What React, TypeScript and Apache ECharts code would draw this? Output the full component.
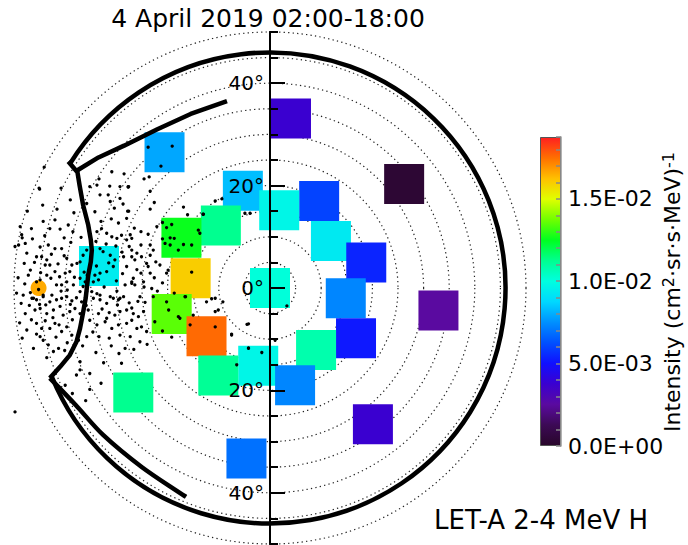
import React, { useEffect, useRef } from "react";
import * as echarts from "echarts";

// ---------- texts ----------
const titleText = "4 April 2019 02:00-18:00";
const instrumentText = "LET-A 2-4 MeV H";

// ---------- latitude axis (degrees) ----------
const latLabelValues = [-40, -20, 0, 20, 40];
const latMajorTicks = [-40, -20, 0, 20, 40];
const latMinorTicks = [-50, -45, -35, -30, -25, -15, -10, -5, 5, 10, 15, 25, 30, 35, 45, 50];

// ---------- intensity squares (x deg, y deg, intensity) ----------
const squareX = [4.1, -20.6, 26.2, -5.3, 9.6, 1.8, -9.6, 11.9, -17.3, 18.8, -33.4, -15.5, 0.0, 14.8, 32.9, -19.2, 16.8, -12.4, 9.0, -2.3, -10.1, 4.9, -26.7, 20.1, -4.6];
const squareY = [33.1, 26.5, 20.3, 19.0, 17.0, 15.2, 12.2, 9.2, 9.8, 5.0, 4.3, 1.9, 0.0, -2.0, -4.4, -5.1, -9.8, -9.4, -12.1, -15.2, -17.1, -19.0, -20.4, -26.6, -33.3];
const squareIntensity = [3.75e-3, 7.9e-3, 0.3e-3, 8.3e-3, 6.0e-3, 9.7e-3, 1.125e-2, 9.3e-3, 1.26e-2, 5.4e-3, 9.4e-3, 1.6e-2, 1.01e-2, 7.3e-3, 2.5e-3, 1.35e-2, 5.15e-3, 1.76e-2, 1.08e-2, 9.7e-3, 1.115e-2, 7.3e-3, 1.125e-2, 3.75e-3, 6.9e-3];

// ---------- particle footpoint dots (x deg, y deg) ----------
const dotsUpper = [
  [-44.1, 23.6], [-45.1, 19.5], [-23.8, 27.5], [-19.1, 27.7], [-21.3, 23.8], [-30.9, 22.7], [-28.5, 22.3],
  [-33.4, 21.3], [-23.6, 21.7], [-24.6, 21.3], [-31.3, 19.9], [-27.7, 19.7], [-33.8, 20.1],
];
const dotsWest = [
  [-45.0, 19.3], [-40.8, 19.5], [-35.2, 19.8], [-33.2, 18.2], [-31.6, 18.2], [-29.3, 19.8], [-27.6, 19.8], [-31.2, 16.9],
  [-29.3, 17.5], [-35.8, 16.5], [-27.6, 15.0], [-44.3, 13.0], [-41.0, 11.5], [-39.4, 12.3], [-38.5, 11.0], [-33.8, 11.0],
  [-32.9, 11.6], [-31.9, 10.7], [-30.9, 10.0], [-29.9, 9.7], [-29.0, 10.3], [-28.0, 9.4], [-27.0, 9.7], [-48.8, 12.0],
  [-49.8, 8.1], [-49.1, 8.4], [-47.8, 8.7], [-48.5, 10.4], [-43.3, 8.4], [-42.0, 7.7], [-40.7, 7.7], [-45.6, 6.1],
  [-44.6, 6.1], [-43.6, 5.5], [-43.0, 4.5], [-42.0, 3.2], [-43.9, 4.5], [-43.6, 2.5], [-39.7, 5.8], [-38.7, 4.5],
  [-39.1, 3.2], [-37.7, 4.8], [-40.0, 2.9], [-39.7, 1.2], [-38.4, 0.6], [-37.1, 1.9], [-36.5, 0.3], [-35.8, -0.7],
  [-34.8, -0.7], [-33.8, -1.1], [-33.2, -1.4], [-37.1, -0.7], [-41.7, 0.6], [-40.7, 0.6], [-42.6, -1.4], [-44.3, -1.4],
  [-46.2, -2.0], [-47.2, 2.5], [-45.6, 1.2], [-44.9, 1.6], [-48.2, -1.4], [-31.2, -1.7], [-29.3, -2.0], [-28.3, 0.6],
  [-27.0, 0.9], [-26.7, 1.9], [-28.0, 4.2], [-28.6, 6.1], [-27.0, 6.1], [-35.8, 7.4], [-36.5, 6.4], [-37.1, 5.1],
  [-33.2, 7.7], [-32.6, 7.1], [-31.2, 6.4], [-30.3, 5.5], [-30.6, 4.2], [-31.9, 3.2], [-33.2, 2.9], [-34.2, 2.5],
  [-35.2, 3.8], [-35.7, 2.5], [-36.1, 1.2], [-34.5, 1.2], [-33.5, 1.6], [-50.2, 9.2], [-48.4, 9.8],
  [-46.8, 3.5], [-45.2, -0.3], [-42.8, 1.9], [-41.4, 4.7], [-40.2, 6.3], [-38.9, 8.9], [-36.9, 9.9], [-34.0, 9.1],
  [-32.0, 8.6], [-30.1, 8.2], [-28.9, 7.0], [-31.5, 4.9], [-33.9, 4.3], [-36.3, 3.1], [-38.2, 2.1], [-40.8, -0.6],
  [-43.8, -3.3], [-47.0, -3.4], [-39.0, -3.2], [-35.9, -3.4], [-32.8, -4.1], [-29.8, -3.3], [-27.5, -2.9],
  [-48.0, 4.8], [-46.4, 9.6], [-44.0, 10.2], [-42.0, 13.3], [-38.3, 14.7], [-34.2, 14.9], [-31.0, 13.5], [-29.6, 12.7],
  [-36.8, 18.0], [-26.0, 3.6], [-24.4, -2.8],
  [-47.5, 6.8], [-46.0, 5.0], [-44.8, 3.0], [-47.9, 0.8], [-46.8, -0.9], [-45.0, -3.2], [-42.4, -5.8], [-41.2, -7.2],
  [-43.9, -6.4], [-46.6, -6.2], [-48.9, -6.8], [-49.5, -1.0], [-49.2, 2.0], [-48.4, -9.8], [-45.6, -9.0], [-43.6, -13.6],
  [-41.8, -9.6], [-40.1, -12.2], [-38.6, -6.2], [-39.6, -0.4], [-41.1, 2.2], [-42.7, 6.6], [-44.9, 8.0], [-46.6, 11.6],
  [-43.0, 11.6], [-40.2, 9.8], [-41.6, 15.4], [-44.4, 16.2], [-47.4, 15.0], [-39.0, 17.2],
];
const dotsMiddle = [
  [-27.7, 19.8], [-23.4, 18.9], [-22.6, 16.7], [-27.8, 15.0], [-23.4, 15.4], [-28.0, 13.6], [-26.5, 11.7], [-27.3, 10.4],
  [-25.2, 11.0], [-23.8, 10.5], [-22.1, 12.0], [-23.4, 8.4], [-25.2, 8.4], [-27.5, 8.1], [-27.0, 7.4], [-26.0, 6.8],
  [-26.4, 5.5], [-25.1, 6.1], [-23.4, 6.4], [-22.8, 7.4], [-22.3, 5.1], [-21.5, 4.5], [-24.1, 4.8], [-23.8, 4.2],
  [-25.2, 2.9], [-23.4, 2.9], [-24.7, 1.2], [-27.0, 1.2], [-26.4, 0.6], [-25.4, -1.7], [-23.1, -0.1], [-20.2, 2.9],
  [-19.9, 3.5], [-16.9, 15.8], [-16.1, 14.3], [-13.0, 14.4], [-10.7, 17.0], [-9.4, 17.4], [-4.9, 14.6], [-3.9, 14.6],
  [-21.0, 12.8], [-20.2, 11.8], [-19.2, 12.4], [-14.0, 11.3], [-13.7, 10.7], [-19.5, 9.8], [-18.7, 9.7], [-21.0, 9.6],
  [-20.5, 8.7], [-19.5, 8.4], [-16.9, 8.5], [-15.3, 8.4], [-17.9, 7.4], [-15.3, 3.1], [-18.7, -1.0], [-16.5, -1.7],
  [-33.0, 13.0], [-30.4, 15.6], [-28.7, 16.4], [-32.4, 0.2], [-30.0, 1.4], [-28.8, 2.8], [-29.9, -0.6], [-31.4, -4.8],
  [-27.0, -3.9], [-25.8, -2.6], [-24.6, 0.2], [-22.0, -0.6], [-22.6, 2.0], [-21.0, 1.0],
];
const dotsLower = [
  [-46.5, -2.0], [-45.6, -2.3], [-44.3, -1.7], [-43.0, -2.7], [-41.7, -2.3], [-40.7, -2.0], [-39.7, -1.7], [-38.7, -2.5],
  [-37.8, -1.9], [-36.8, -2.7], [-34.5, -2.0], [-33.2, -2.3], [-31.9, -3.0], [-30.6, -2.0], [-29.6, -2.3], [-28.6, -1.7],
  [-45.9, -4.3], [-44.9, -4.0], [-43.6, -5.0], [-42.3, -4.3], [-41.0, -3.6], [-40.4, -5.3], [-39.1, -4.6], [-38.1, -4.0],
  [-37.1, -5.0], [-35.5, -4.3], [-33.5, -5.0], [-31.9, -5.9], [-30.3, -5.3], [-29.3, -4.6], [-28.0, -4.3], [-26.7, -5.0],
  [-25.7, -5.6], [-24.7, -4.6], [-47.8, -5.0], [-47.5, -8.2], [-45.6, -6.9], [-44.6, -7.9], [-43.0, -7.9], [-42.0, -6.9],
  [-40.7, -8.5], [-39.7, -7.6], [-38.7, -9.2], [-35.8, -9.5], [-35.2, -6.3], [-33.8, -7.2], [-32.2, -6.6], [-30.9, -7.9],
  [-29.6, -7.2], [-28.0, -6.9], [-27.0, -6.3], [-26.0, -7.9], [-25.1, -7.6], [-24.1, -8.5], [-46.2, -11.8], [-44.3, -10.2],
  [-43.3, -11.1], [-42.3, -12.4], [-41.3, -11.8], [-37.4, -10.2], [-37.8, -17.0], [-37.1, -16.0], [-35.2, -16.7],
  [-40.0, -19.0], [-37.1, -14.4], [-29.0, -14.7], [-28.3, -11.8], [-27.3, -9.5], [-29.3, -9.2], [-25.4, -10.5],
  [-49.8, -24.2], [-22.8, -1.7], [-19.8, -4.3], [-20.2, -2.7], [-16.6, -1.7], [-17.9, -5.6], [-17.6, -5.9], [-15.6, -7.2],
  [-15.0, -5.3], [-12.4, -2.7], [-10.7, -2.0], [-10.7, -7.6], [-10.1, -4.3], [-7.5, -9.2], [-6.5, -15.0], [-4.2, -11.8],
  [-4.5, -7.1], [-34.6, -8.6], [-31.4, -9.8], [-36.6, -11.3], [-39.6, -10.7], [-44.9, -9.5], [-48.6, -3.0],
  [-33.4, -9.5], [-31.0, -11.3], [-29.5, -12.8], [-26.6, -12.0], [-24.0, -11.0], [-22.5, -6.6], [-21.0, -8.4],
  [-19.2, -9.6], [-34.0, -12.6], [-32.5, -14.6], [-35.2, -19.8], [-33.0, -18.6], [-38.6, -20.6], [-36.0, -22.0],
];
const dotsCentre = [
  [3.3, -3.5], [-11.4, -2.1], [-9.2, -2.7], [-10.7, -4.6], [-4.2, -7.0], [-7.5, -9.0], [1.0, -10.2], [-4.2, -11.7],
  [-1.6, -12.6], [-13.1, 14.4],
];

// ---------- observer marker ----------
const sunPosition = [-45.2, 0];

// ---------- thick field-line / boundary curves (x deg, y deg) ----------
const boundaryRadius = 46; // deg
const boundaryGapAngles = [148, 202]; // polar angles (deg) between which the boundary circle is open
const upperLine = [[-8.4, 36.5], [-15.5, 34.0], [-22.0, 31.0], [-28.5, 27.8], [-33.5, 25.5], [-37.6, 23.0]];
const jaggedLine = [
  [-39.4, 24.7], [-37.6, 22.6], [-37.2, 20.1], [-36.5, 16.2], [-35.5, 12.3], [-35.0, 9.4], [-34.8, 7.4], [-35.0, 5.1],
  [-35.5, 2.5], [-36.0, -2.0], [-36.6, -5.3], [-37.1, -7.9], [-37.8, -10.5], [-39.1, -13.1], [-41.0, -15.4], [-43.0, -17.6],
];
const lowerLine = [[-43.0, -17.6], [-38.0, -22.8], [-32.6, -28.7], [-25.0, -35.0], [-16.4, -40.8]];

// ---------- colour bar ----------
const cbMax = 0.01875;
const cbLabelValues = [0, 0.005, 0.01, 0.015];
const rainbow = [
  "#28062a", "#3c0a55", "#5a0aa0", "#3a00d0", "#1010ff", "#0050ff", "#0090ff", "#00d8ff",
  "#00ffe0", "#00ff90", "#00ff20", "#70ff00", "#e0ff00", "#ffc000", "#ff7000", "#ff2020",
];
const cbTitle = "{n|Intensity (cm}{s|2}{n|·sr·s·MeV)}{s|-1}";

function sci(v: number): string {
  if (Math.abs(v) < 1e-12) return "0.0E+00";
  const e = Math.floor(Math.log10(Math.abs(v)) + 1e-9);
  const m = v / Math.pow(10, e);
  return m.toFixed(1) + "E" + (e < 0 ? "-" : "+") + String(Math.abs(e)).padStart(2, "0");
}

export default function App() {
  const ref = useRef<HTMLDivElement>(null);
  useEffect(() => {
    if (!ref.current) return;
    const chart = echarts.init(ref.current, undefined, { renderer: "svg" });
    const font = "DejaVu Sans";
    const gridLeft = 14;
    const gridSize = 512;
    const axisOffset = -gridSize / 2; // moves the latitude axis onto x = 0 (plot centre)
    const allDots = [...dotsUpper, ...dotsWest, ...dotsMiddle, ...dotsLower, ...dotsCentre];
    const option: any = {
      animation: false,
      backgroundColor: "#ffffff",
      grid: [
        { left: gridLeft, top: 32, width: gridSize, height: gridSize, containLabel: false, outerBoundsMode: "none" },
        { left: 540, top: 137, width: 21, height: 309, containLabel: false, outerBoundsMode: "none" },
      ],
      polar: { center: [gridLeft + gridSize / 2, 32 + gridSize / 2], radius: gridSize / 2 },
      radiusAxis: {
        min: 0, max: 50, interval: 5, z: 0,
        axisLine: { show: false }, axisTick: { show: false }, axisLabel: { show: false },
        splitLine: { show: true, lineStyle: { color: "#222", type: [1.3, 3.2], width: 1.2 } },
      },
      angleAxis: {
        min: 0, max: 360,
        axisLine: { show: false }, axisTick: { show: false }, axisLabel: { show: false }, splitLine: { show: false },
      },
      xAxis: [
        { gridIndex: 0, type: "value", min: -50, max: 50, show: false, axisLine: { onZero: false } },
        { gridIndex: 1, type: "category", data: ["cb"], show: false },
      ],
      yAxis: [
        {
          gridIndex: 0, type: "value", min: -50, max: 50, interval: 5, z: 10, position: "left", offset: axisOffset,
          axisLine: { show: true, onZero: false, lineStyle: { color: "#000", width: 2 } },
          axisTick: { show: true, inside: true, length: 8, customValues: latMinorTicks, lineStyle: { color: "#000", width: 2 } },
          axisLabel: {
            show: true, customValues: latLabelValues, margin: 6, color: "#000", fontSize: 20, fontFamily: font,
            formatter: (v: number) => Math.abs(v) + "°",
          },
          splitLine: { show: false },
        },
        {
          gridIndex: 0, type: "value", min: -50, max: 50, interval: 5, z: 10, position: "left", offset: axisOffset,
          axisLine: { show: true, onZero: false, lineStyle: { color: "#000", width: 2 } },
          axisTick: { show: true, inside: true, length: 15, customValues: latMajorTicks, lineStyle: { color: "#000", width: 2 } },
          axisLabel: { show: false },
          splitLine: { show: false },
        },
        {
          gridIndex: 1, type: "value", min: 0, max: cbMax, interval: 0.001, z: 10, position: "right",
          axisLine: { show: true, lineStyle: { color: "#999", width: 1.5 } },
          axisTick: { show: true, inside: true, length: 5, lineStyle: { color: "#888", width: 1.5 } },
          axisLabel: {
            show: true, customValues: cbLabelValues, margin: 7, color: "#000", fontSize: 22, fontFamily: font,
            formatter: (v: number) => sci(v),
          },
          splitLine: { show: false },
        },
      ],
      visualMap: {
        type: "continuous", show: false, min: 0, max: cbMax, dimension: 2, seriesIndex: 0,
        inRange: { color: rainbow },
      },
      series: [
        {
          type: "scatter", xAxisIndex: 0, yAxisIndex: 0, symbol: "rect", symbolSize: 40, z: 2,
          itemStyle: { opacity: 1 },
          data: squareX.map((x, i) => [x, squareY[i], squareIntensity[i]]),
        },
        {
          type: "scatter", xAxisIndex: 0, yAxisIndex: 0, symbol: "circle", symbolSize: 16, z: 3,
          itemStyle: { color: "#ffaa00", opacity: 1 }, data: [sunPosition],
        },
        {
          type: "line", xAxisIndex: 0, yAxisIndex: 0, symbol: "none", z: 4, data: upperLine,
          lineStyle: { color: "#000", width: 4.5 },
        },
        {
          type: "line", xAxisIndex: 0, yAxisIndex: 0, symbol: "none", z: 4, data: jaggedLine,
          lineStyle: { color: "#000", width: 4.5, join: "round" },
        },
        {
          type: "line", xAxisIndex: 0, yAxisIndex: 0, symbol: "none", z: 4, data: lowerLine, smooth: 0.3,
          lineStyle: { color: "#000", width: 4.5 },
        },
        {
          type: "scatter", xAxisIndex: 0, yAxisIndex: 0, symbol: "circle", symbolSize: 3.3, z: 5,
          itemStyle: { color: "#000", opacity: 1 }, data: allDots,
        },
        {
          type: "bar", xAxisIndex: 1, yAxisIndex: 2, barWidth: "100%", z: 2, data: [cbMax],
          itemStyle: {
            color: new echarts.graphic.LinearGradient(0, 1, 0, 0,
              rainbow.map((c, i) => ({ offset: i / (rainbow.length - 1), color: c }))),
            borderColor: "#555", borderWidth: 1,
          },
        },
      ],
      graphic: [
        {
          id: "title", type: "text", x: 268, y: 18, z: 20,
          style: { text: titleText, fontSize: 25, fontFamily: font, fill: "#000", align: "center", verticalAlign: "middle" },
        },
        {
          id: "instrument", type: "text", x: 541, y: 520, z: 20,
          style: { text: instrumentText, fontSize: 26, fontFamily: font, fill: "#000", align: "center", verticalAlign: "middle" },
        },
        {
          id: "cbtitle", type: "text", x: 672, y: 292, rotation: Math.PI / 2, z: 20,
          style: {
            text: cbTitle, align: "center", verticalAlign: "middle", fill: "#000",
            rich: {
              n: { fontSize: 22, fontFamily: font, fill: "#000", lineHeight: 23, verticalAlign: "bottom" },
              s: { fontSize: 16, fontFamily: font, fill: "#000", lineHeight: 17, verticalAlign: "top", padding: [0, 0, 20, 0] },
            },
          },
        },
      ],
    };
    chart.setOption(option);
    const c = chart.convertToPixel({ gridIndex: 0 } as any, [0, 0]) as number[];
    const e = chart.convertToPixel({ gridIndex: 0 } as any, [boundaryRadius, 0]) as number[];
    const r = e[0] - c[0];
    chart.setOption({
      graphic: [
        {
          id: "boundary", type: "arc", z: 4,
          shape: {
            cx: c[0], cy: c[1], r,
            startAngle: (-boundaryGapAngles[0] * Math.PI) / 180,
            endAngle: ((360 - boundaryGapAngles[1]) * Math.PI) / 180,
            clockwise: true,
          },
          style: { stroke: "#000", lineWidth: 4.5, fill: "none" },
        },
      ],
    });
    return () => chart.dispose();
  }, []);
  return <div ref={ref} style={{ position: "fixed", left: 0, top: 0, width: 688, height: 545, background: "#fff" }} />;
}
